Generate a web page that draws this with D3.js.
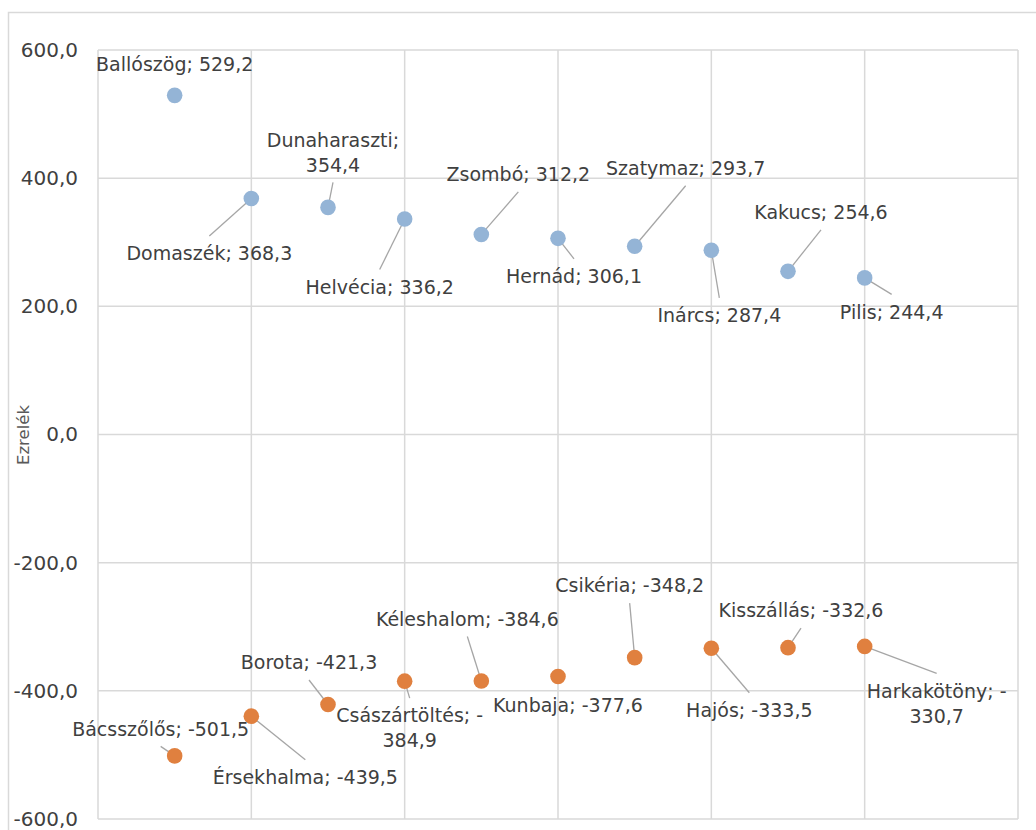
<!DOCTYPE html>
<html>
<head>
<meta charset="utf-8">
<script src="https://cdn.jsdelivr.net/npm/d3@7"></script>
<style>
  body { margin: 0; background: #fff; }
  svg { display: block; font-family: "DejaVu Sans", sans-serif; }
  .grid line { stroke: #d9d9d9; stroke-width: 1.5; }
  .axis text { fill: #404040; font-size: 20px; font-family: "DejaVu Sans", sans-serif; }
  .lbl { fill: #404040; font-size: 19px; }
  .leader { stroke: #a6a6a6; stroke-width: 1.3; }
</style>
</head>
<body>
<div class="wrapper"></div>
<script>
// chart data: settlement names and residual values (per mille)
var posNames = ["Ballószög", "Domaszék", "Dunaharaszti", "Helvécia", "Zsombó",
  "Hernád", "Szatymaz", "Inárcs", "Kakucs", "Pilis"];
var posValues = [529.2, 368.3, 354.4, 336.2, 312.2, 306.1, 293.7, 287.4, 254.6, 244.4];

var negNames = ["Bácsszőlős", "Érsekhalma", "Borota", "Császártöltés", "Kéleshalom",
  "Kunbaja", "Csikéria", "Hajós", "Kisszállás", "Harkakötöny"];
var negValues = [-501.5, -439.5, -421.3, -384.9, -384.6, -377.6, -348.2, -333.5, -332.6, -330.7];

var yTicks = [-600, -400, -200, 0, 200, 400, 600];
var axisTitle = "Ezrelék";

// label placement (offset of label centre from point, px), wrap, leader line
var posLabelLayout = [
  { dx: 0, dy: -31, wrap: false, leader: false },
  { dx: -42, dy: 55, wrap: false, leader: true },
  { dx: 5, dy: -55, wrap: true, leader: true },
  { dx: -25, dy: 68, wrap: false, leader: true },
  { dx: 37, dy: -60, wrap: false, leader: true },
  { dx: 16, dy: 38, wrap: false, leader: true },
  { dx: 51, dy: -78, wrap: false, leader: true },
  { dx: 8, dy: 65, wrap: false, leader: true },
  { dx: 33, dy: -59, wrap: false, leader: true },
  { dx: 27, dy: 34, wrap: false, leader: true }
];
var negLabelLayout = [
  { dx: -14, dy: -27, wrap: false, leader: true },
  { dx: 54, dy: 61, wrap: false, leader: true },
  { dx: -19, dy: -42, wrap: false, leader: true },
  { dx: 5, dy: 47, wrap: true, leader: true },
  { dx: -14, dy: -62, wrap: false, leader: true },
  { dx: 10, dy: 29, wrap: false, leader: false },
  { dx: -5, dy: -72, wrap: false, leader: true },
  { dx: 38, dy: 62, wrap: false, leader: true },
  { dx: 13, dy: -37, wrap: false, leader: true },
  { dx: 72, dy: 57, wrap: true, leader: true }
];

var ultimatew = 1036,
  ultimateh = 830,
  plot = { left: 98, right: 1018, top: 50, bottom: 819 };

var huLocale = d3.formatLocale({
  decimal: ",",
  thousands: " ",
  grouping: [3],
  currency: ["", " Ft"],
  minus: "-"
});
var fmt = huLocale.format(".1f");

var svg = d3
  .select(".wrapper")
  .append("svg")
  .attr("width", ultimatew)
  .attr("height", ultimateh);

// outer chart border (runs off the right and bottom edge)
svg
  .append("rect")
  .attr("x", 8.5)
  .attr("y", 12.5)
  .attr("width", 1060)
  .attr("height", 860)
  .attr("fill", "#fff")
  .attr("stroke", "#d9d9d9")
  .attr("stroke-width", 1.5);

var x = d3.scaleLinear().domain([0, 12]).range([plot.left, plot.right]);
var y = d3.scaleLinear().domain([-600, 600]).range([plot.bottom, plot.top]);

// gridlines
var grid = svg.append("g").attr("class", "grid");
grid
  .selectAll(".h")
  .data(yTicks)
  .enter()
  .append("line")
  .attr("x1", plot.left)
  .attr("x2", plot.right)
  .attr("y1", function(d) { return y(d); })
  .attr("y2", function(d) { return y(d); });
grid
  .selectAll(".v")
  .data(d3.range(0, 13, 2))
  .enter()
  .append("line")
  .attr("y1", plot.top)
  .attr("y2", plot.bottom)
  .attr("x1", function(d) { return x(d); })
  .attr("x2", function(d) { return x(d); });

// y axis
var yAxis = svg
  .append("g")
  .attr("class", "axis")
  .attr("transform", "translate(" + plot.left + ",0)")
  .call(d3.axisLeft(y).tickValues(yTicks).tickSize(0).tickPadding(20).tickFormat(fmt));
yAxis.attr("font-family", null).attr("font-size", null);
yAxis.select(".domain").remove();

svg
  .append("text")
  .attr("transform", "translate(29,435) rotate(-90)")
  .attr("text-anchor", "middle")
  .attr("fill", "#595959")
  .attr("font-size", 16.5)
  .text(axisTitle);

function makeSeries(names, values, layout) {
  return names.map(function(n, i) {
    return { name: n, val: values[i], idx: i + 1, lay: layout[i] };
  });
}

drawSeries(makeSeries(posNames, posValues, posLabelLayout), "#94b4d6");
drawSeries(makeSeries(negNames, negValues, negLabelLayout), "#e0803f");

function labelLines(d) {
  var v = fmt(d.val);
  if (!d.lay.wrap) return [d.name + "; " + v];
  if (d.val < 0) return [d.name + "; -", v.slice(1)];
  return [d.name + ";", v];
}

function drawSeries(data, color) {
  var g = svg.append("g");
  var lineH = 25;

  // leader lines first so points sit on top
  g.selectAll(".leader")
    .data(data.filter(function(d) { return d.lay.leader; }))
    .enter()
    .append("line")
    .attr("class", "leader")
    .attr("x1", function(d) { return x(d.idx) + d.lay.dx; })
    .attr("y1", function(d) {
      var half = (labelLines(d).length - 1) * lineH / 2 + 17.5;
      return y(d.val) + d.lay.dy + (d.lay.dy < 0 ? half : -half);
    })
    .attr("x2", function(d) { return x(d.idx); })
    .attr("y2", function(d) { return y(d.val); });

  g.selectAll("circle")
    .data(data)
    .enter()
    .append("circle")
    .attr("cx", function(d) { return x(d.idx); })
    .attr("cy", function(d) { return y(d.val); })
    .attr("r", 7.8)
    .attr("fill", color);

  var lbl = g.selectAll(".lbl")
    .data(data)
    .enter()
    .append("text")
    .attr("class", "lbl")
    .attr("text-anchor", "middle");

  lbl.each(function(d) {
    var lines = labelLines(d);
    var cx = x(d.idx) + d.lay.dx;
    var cy = y(d.val) + d.lay.dy - (lines.length - 1) * lineH / 2;
    d3.select(this)
      .selectAll("tspan")
      .data(lines)
      .enter()
      .append("tspan")
      .attr("x", cx)
      .attr("y", function(t, j) { return cy + j * lineH; })
      .attr("dy", "0.35em")
      .text(function(t) { return t; });
  });
}
</script>
</body>
</html>
